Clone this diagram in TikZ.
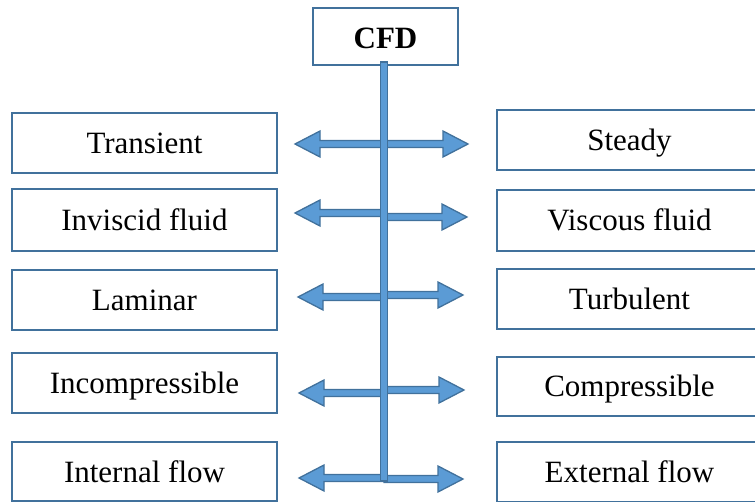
\documentclass[tikz,border=0pt]{standalone}
\usepackage{fontspec}
\setmainfont{Liberation Serif}
\usetikzlibrary{calc}
\definecolor{edgeblue}{HTML}{41719C}
\definecolor{fillblue}{HTML}{5B9BD5}

% block arrow from a tail point on the stem to a tip point; #3 = head length with sign
\newcommand\blockarrow[3]{%
  \draw[arrowbody] (#2) -- ($(#2)+(#3,-13)$) -- ($(#2)+(#3,-3.5)$)
    -- ($(#1)+(0,-3.5)$) -- ($(#1)+(0,3.5)$) -- ($(#2)+(#3,3.5)$)
    -- ($(#2)+(#3,13)$) -- cycle;}

\begin{document}
\begin{tikzpicture}[x=1pt,y=-1pt,
  box/.style={draw=edgeblue, line width=1.8pt, fill=white, inner sep=0pt,
    font=\fontsize{31}{36}\selectfont, text height=28pt, text depth=7pt},
  sidebox/.style={box, minimum width=265pt, minimum height=60pt},
  arrowbody/.style={draw=edgeblue, fill=fillblue, line width=1.3pt, line join=miter}]
\useasboundingbox (0,0) rectangle (755,502);

% root
\node[box, minimum width=145pt, minimum height=57pt, text height=32pt,
  font=\fontsize{31}{36}\selectfont\bfseries] (cfd) at (385.5,36.5) {CFD};

% left column
\node[sidebox] (transient) at (144.5,143) {Transient};
\node[sidebox, minimum height=62pt] (inviscid) at (144.5,220) {Inviscid fluid};
\node[sidebox] (laminar) at (144.5,300) {Laminar};
\node[sidebox] (incomp) at (144.5,383) {Incompressible};
\node[sidebox, minimum height=59pt] (internal) at (144.5,471.5) {Internal flow};

% right column
\node[sidebox] (steady) at (629.5,140) {Steady};
\node[sidebox, minimum height=61pt] (viscous) at (629.5,220.5) {Viscous fluid};
\node[sidebox] (turbulent) at (629.5,299) {Turbulent};
\node[sidebox, minimum height=59pt] (comp) at (629.5,386.5) {Compressible};
\node[sidebox] (external) at (629.5,472) {External flow};

% stem ends
\coordinate (stemtop) at (384,62);
\coordinate (stembot) at (384,481);

% arrow tails on the stem and arrow tips
\coordinate (t1l) at (384,144); \coordinate (a1l) at (295,144);
\coordinate (t1r) at (384,144); \coordinate (a1r) at (468,144);
\coordinate (t2l) at (384,213); \coordinate (a2l) at (295,213);
\coordinate (t2r) at (384,217); \coordinate (a2r) at (467,217);
\coordinate (t3l) at (384,297); \coordinate (a3l) at (298,297);
\coordinate (t3r) at (384,295); \coordinate (a3r) at (463,295);
\coordinate (t4l) at (384,393); \coordinate (a4l) at (299,393);
\coordinate (t4r) at (384,390); \coordinate (a4r) at (464,390);
\coordinate (t5l) at (384,478); \coordinate (a5l) at (299,478);
\coordinate (t5r) at (384,479); \coordinate (a5r) at (463,479);

\foreach \i in {1,...,5}{
  \blockarrow{t\i l}{a\i l}{25}
  \blockarrow{t\i r}{a\i r}{-25}
}

% vertical stem
\draw[arrowbody] ($(stemtop)+(-3.5,0)$) rectangle ($(stembot)+(3.5,0)$);
\end{tikzpicture}
\end{document}
